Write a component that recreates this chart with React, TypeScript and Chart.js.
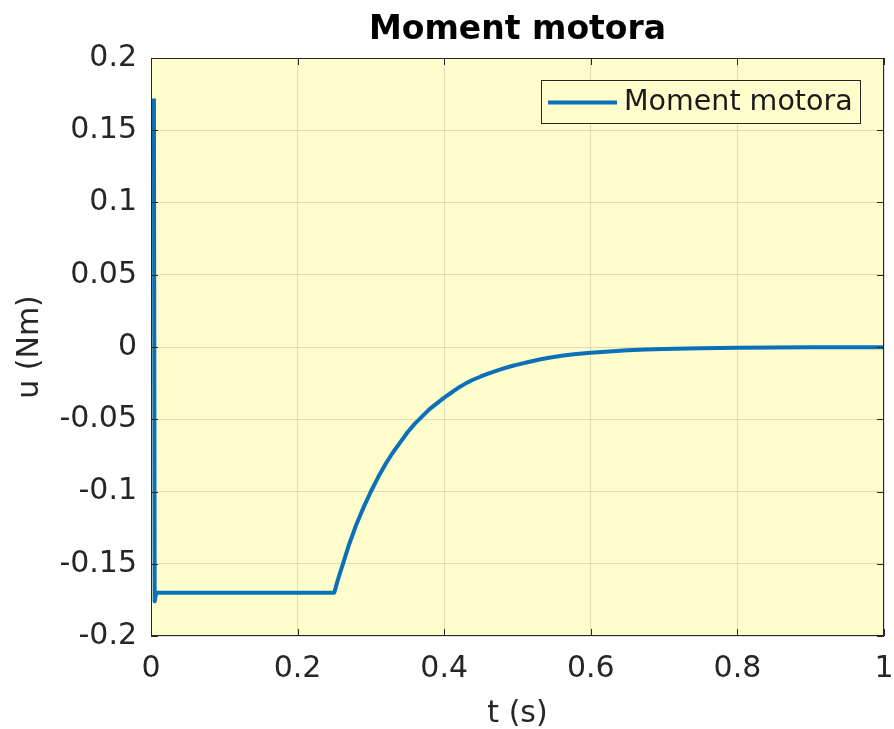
import React, { useEffect, useRef } from "react";
import { Chart, registerables } from "chart.js";

Chart.register(...registerables);

const chartTitle = "Moment motora";
const seriesName = "Moment motora";
const xAxisTitle = "t (s)";
const yAxisTitle = "u (Nm)";

const timeValues = [
  0.004, 0.005, 0.007, 0.25, 0.255, 0.26, 0.265, 0.27, 0.28, 0.29, 0.3, 0.31,
  0.32, 0.33, 0.34, 0.35, 0.36, 0.37, 0.38, 0.39, 0.4, 0.41, 0.42, 0.43, 0.44,
  0.45, 0.46, 0.47, 0.48, 0.49, 0.5, 0.515, 0.53, 0.545, 0.56, 0.58, 0.6,
  0.625, 0.65, 0.675, 0.7, 0.75, 0.8, 0.85, 0.9, 1.0,
];
const torqueValues = [
  0.172, -0.176, -0.17, -0.17, -0.161, -0.153, -0.145, -0.137, -0.123, -0.111,
  -0.1, -0.09, -0.081, -0.073, -0.066, -0.059, -0.053, -0.048, -0.043, -0.039,
  -0.035, -0.0315, -0.028, -0.025, -0.0225, -0.0204, -0.0185, -0.0167, -0.015,
  -0.0135, -0.0122, -0.0104, -0.0087, -0.0073, -0.0061, -0.0049, -0.004,
  -0.0031, -0.0023, -0.0018, -0.0014, -0.0008, -0.0005, -0.0003, -0.0002,
  -0.0001,
];

const xTickValues = [0, 0.2, 0.4, 0.6, 0.8, 1];
const xTickLabels = ["0", "0.2", "0.4", "0.6", "0.8", "1"];
const yTickValues = [-0.2, -0.15, -0.1, -0.05, 0, 0.05, 0.1, 0.15, 0.2];
const yTickLabels = ["-0.2", "-0.15", "-0.1", "-0.05", "0", "0.05", "0.1", "0.15", "0.2"];

const FONT = "'DejaVu Sans', Verdana, sans-serif";
const LINE_COLOR = "#0a70b8";
const AXIS_COLOR = "#262626";
const BG_COLOR = "rgb(255,253,204)";

function labelFor(values: number[], labels: string[], v: number): string {
  for (let i = 0; i < values.length; i++) {
    if (Math.abs(values[i] - v) < 1e-9) return labels[i];
  }
  return "";
}

const matlabPlugin = {
  id: "matlabAxes",
  beforeDraw(chart: any) {
    const { ctx, chartArea: a } = chart;
    ctx.save();
    ctx.fillStyle = BG_COLOR;
    ctx.fillRect(a.left, a.top, a.right - a.left, a.bottom - a.top);
    ctx.restore();
  },
  afterDatasetsDraw(chart: any) {
    const { ctx, chartArea: a } = chart;
    const xs = chart.scales.x;
    const ys = chart.scales.y;
    const tl = 7;
    ctx.save();
    ctx.strokeStyle = AXIS_COLOR;
    ctx.lineWidth = 1;
    ctx.beginPath();
    xTickValues.forEach((v) => {
      const px = Math.round(xs.getPixelForValue(v)) + 0.5;
      ctx.moveTo(px, a.bottom);
      ctx.lineTo(px, a.bottom - tl);
      ctx.moveTo(px, a.top);
      ctx.lineTo(px, a.top + tl);
    });
    yTickValues.forEach((v) => {
      const py = Math.round(ys.getPixelForValue(v)) + 0.5;
      ctx.moveTo(a.left, py);
      ctx.lineTo(a.left + tl, py);
      ctx.moveTo(a.right, py);
      ctx.lineTo(a.right - tl, py);
    });
    ctx.stroke();
    const l = Math.round(a.left) + 0.5;
    const t = Math.round(a.top) + 0.5;
    const r = Math.round(a.right) - 0.5;
    const b = Math.round(a.bottom) - 0.5;
    ctx.strokeRect(l, t, r - l, b - t);

    // legend
    ctx.font = `28.5px ${FONT}`;
    const textW = ctx.measureText(seriesName).width;
    const boxRight = Math.round(a.right - 24);
    const boxTop = 80;
    const boxH = 43;
    const sampleW = 69;
    const boxLeft = Math.round(boxRight - (7 + sampleW + 7 + textW + 7));
    ctx.fillStyle = BG_COLOR;
    ctx.fillRect(boxLeft, boxTop, boxRight - boxLeft, boxH);
    ctx.strokeStyle = AXIS_COLOR;
    ctx.lineWidth = 1;
    ctx.strokeRect(boxLeft + 0.5, boxTop + 0.5, boxRight - boxLeft, boxH);
    const cy = boxTop + boxH / 2 + 1;
    ctx.strokeStyle = LINE_COLOR;
    ctx.lineWidth = 4;
    ctx.beginPath();
    ctx.moveTo(boxLeft + 7, cy);
    ctx.lineTo(boxLeft + 7 + sampleW, cy);
    ctx.stroke();
    ctx.fillStyle = "#1a1a1a";
    ctx.textBaseline = "middle";
    ctx.textAlign = "left";
    ctx.fillText(seriesName, boxLeft + 7 + sampleW + 7, cy);
    ctx.restore();
  },
};

export default function App() {
  const ref = useRef<HTMLCanvasElement | null>(null);

  useEffect(() => {
    document.body.style.margin = "0";
    document.body.style.overflow = "hidden";
    const canvas = ref.current;
    if (!canvas) return;
    const data = timeValues.map((t, i) => ({ x: t, y: torqueValues[i] }));
    const chart = new Chart(canvas, {
      type: "line",
      data: {
        datasets: [
          {
            label: seriesName,
            data,
            borderColor: LINE_COLOR,
            backgroundColor: LINE_COLOR,
            borderWidth: 4,
            borderJoinStyle: "round",
            pointRadius: 0,
            fill: false,
            tension: 0,
          },
        ],
      },
      options: {
        responsive: false,
        animation: false,
        devicePixelRatio: 1,
        layout: { padding: { left: 0, right: 10, top: 0, bottom: 0 } },
        plugins: {
          legend: { display: false },
          tooltip: { enabled: false },
          title: {
            display: true,
            text: chartTitle,
            fullSize: false,
            color: "#000000",
            font: { family: FONT, size: 33, weight: "bold", lineHeight: 1.2 },
            padding: { top: 11, bottom: 7.4 },
          },
        },
        scales: {
          x: {
            type: "linear",
            min: 0,
            max: 1,
            afterFit: (s: any) => {
              s.height = 93;
              s.paddingLeft = 0;
              s.paddingRight = 0;
            },
            afterBuildTicks: (s: any) => {
              s.ticks = xTickValues.map((v) => ({ value: v }));
            },
            ticks: {
              color: AXIS_COLOR,
              font: { family: FONT, size: 30 },
              padding: 15,
              maxRotation: 0,
              autoSkip: false,
              callback: (v: any) => labelFor(xTickValues, xTickLabels, Number(v)),
            },
            grid: { color: "rgba(38,38,38,0.15)", lineWidth: 1, drawTicks: false },
            border: { display: false },
            title: {
              display: true,
              text: xAxisTitle,
              color: AXIS_COLOR,
              font: { family: FONT, size: 30, lineHeight: 1 },
              padding: { top: 0, bottom: 0 },
            },
          },
          y: {
            type: "linear",
            min: -0.2,
            max: 0.2,
            afterFit: (s: any) => {
              s.width = 151;
              s.paddingTop = 0;
              s.paddingBottom = 0;
            },
            afterBuildTicks: (s: any) => {
              s.ticks = yTickValues.map((v) => ({ value: v }));
            },
            ticks: {
              color: AXIS_COLOR,
              font: { family: FONT, size: 30 },
              padding: 14,
              autoSkip: false,
              callback: (v: any) => labelFor(yTickValues, yTickLabels, Number(v)),
            },
            grid: { color: "rgba(38,38,38,0.15)", lineWidth: 1, drawTicks: false },
            border: { display: false },
            title: {
              display: true,
              text: yAxisTitle,
              color: AXIS_COLOR,
              font: { family: FONT, size: 30, lineHeight: 1.2 },
              padding: { top: 12, bottom: 0 },
            },
          },
        },
      },
      plugins: [matlabPlugin],
    } as any);
    return () => chart.destroy();
  }, []);

  return (
    <canvas
      ref={ref}
      width={894}
      height={729}
      style={{ display: "block", width: 894, height: 729 }}
    />
  );
}
